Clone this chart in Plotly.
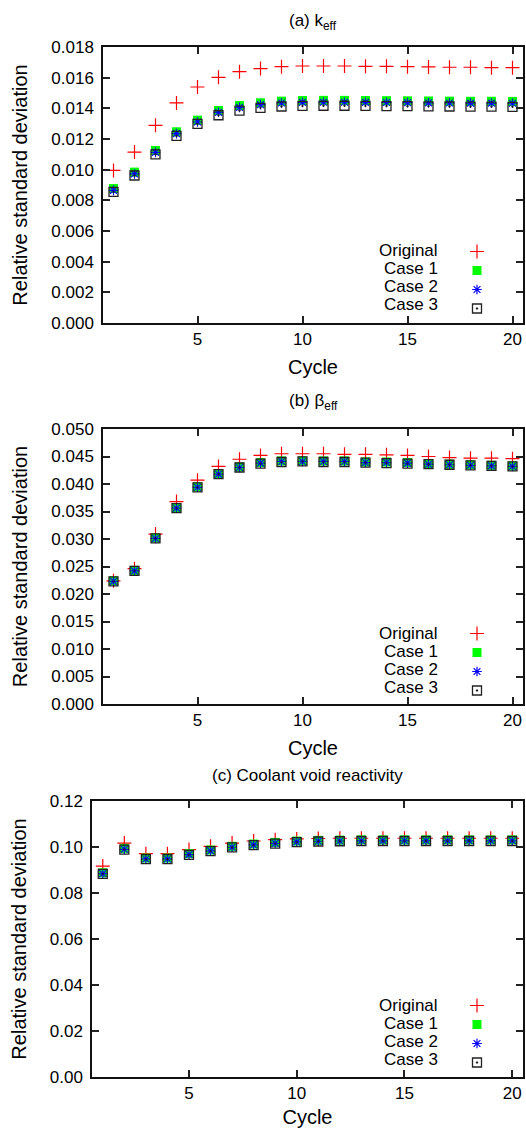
import plotly.graph_objects as go

cycles = list(range(1, 21))

# (a) k_eff
keff_original = [0.00995, 0.01115, 0.01289, 0.01435, 0.01539, 0.01602, 0.01639, 0.01659, 0.01672, 0.01676,
                 0.01676, 0.01676, 0.01674, 0.01674, 0.01672, 0.01670, 0.01668, 0.01668, 0.01665, 0.01665]
keff_case1 = [0.00877, 0.00984, 0.01125, 0.01247, 0.01323, 0.01386, 0.01418, 0.01436, 0.01447, 0.01451,
              0.01452, 0.01452, 0.01451, 0.01450, 0.01449, 0.01448, 0.01447, 0.01446, 0.01446, 0.01445]
keff_case2 = [0.00865, 0.00972, 0.01113, 0.01235, 0.01311, 0.01374, 0.01406, 0.01424, 0.01435, 0.01439,
              0.01440, 0.01440, 0.01439, 0.01438, 0.01437, 0.01436, 0.01435, 0.01434, 0.01434, 0.01433]
keff_case3 = [0.00855, 0.00962, 0.01100, 0.01220, 0.01298, 0.01355, 0.01385, 0.01403, 0.01412, 0.01416,
              0.01417, 0.01417, 0.01416, 0.01415, 0.01414, 0.01413, 0.01412, 0.01411, 0.01411, 0.01410]

# (b) beta_eff
beff_original = [0.0224, 0.0246, 0.0309, 0.0368, 0.0407, 0.0432, 0.0445, 0.0452, 0.0455, 0.0455,
                 0.0455, 0.0454, 0.0454, 0.0453, 0.0452, 0.0450, 0.0448, 0.0447, 0.0447, 0.0446]
beff_case1 = [0.0224, 0.0243, 0.0302, 0.0357, 0.0395, 0.0419, 0.0431, 0.0439, 0.0442, 0.0442,
              0.0442, 0.0442, 0.0440, 0.0440, 0.0439, 0.0437, 0.0436, 0.0435, 0.0434, 0.0433]
beff_case2 = [0.0223, 0.0242, 0.0301, 0.0356, 0.0394, 0.0418, 0.0430, 0.0438, 0.0441, 0.0441,
              0.0441, 0.0441, 0.0439, 0.0439, 0.0438, 0.0436, 0.0435, 0.0434, 0.0433, 0.0432]
beff_case3 = [0.0223, 0.0242, 0.0301, 0.0356, 0.0394, 0.0418, 0.0430, 0.0437, 0.0440, 0.0441,
              0.0440, 0.0440, 0.0439, 0.0438, 0.0437, 0.0436, 0.0435, 0.0434, 0.0433, 0.0432]

# (c) Coolant void reactivity
cvr_original = [0.0917, 0.1017, 0.0971, 0.0971, 0.0989, 0.1003, 0.1017, 0.1026, 0.1032, 0.1035,
                0.1037, 0.1038, 0.1038, 0.1038, 0.1038, 0.1038, 0.1038, 0.1038, 0.1038, 0.1038]
cvr_case1 = [0.0888, 0.0994, 0.0952, 0.0952, 0.0971, 0.0987, 0.1003, 0.1013, 0.1020, 0.1026,
             0.1029, 0.1030, 0.1031, 0.1031, 0.1031, 0.1031, 0.1031, 0.1031, 0.1031, 0.1031]
cvr_case2 = [0.0884, 0.0990, 0.0948, 0.0948, 0.0967, 0.0983, 0.0999, 0.1009, 0.1016, 0.1022,
             0.1025, 0.1026, 0.1027, 0.1027, 0.1027, 0.1027, 0.1027, 0.1027, 0.1027, 0.1027]
cvr_case3 = [0.0883, 0.0989, 0.0947, 0.0947, 0.0966, 0.0982, 0.0998, 0.1008, 0.1015, 0.1021,
             0.1024, 0.1025, 0.1026, 0.1026, 0.1026, 0.1026, 0.1026, 0.1026, 0.1026, 0.1026]

series_names = ["Original", "Case 1", "Case 2", "Case 3"]
panel_titles = ["(a) k<sub>eff</sub>", "(b) β<sub>eff</sub>", "(c) Coolant void reactivity"]
x_tickvals = [5, 10, 15, 20]

panels = [
    [keff_original, keff_case1, keff_case2, keff_case3],
    [beff_original, beff_case1, beff_case2, beff_case3],
    [cvr_original, cvr_case1, cvr_case2, cvr_case3],
]

W, H = 526, 1128
FONT = "Liberation Sans, Arial, Helvetica, sans-serif"
FS = 17

markers = [
    dict(symbol="cross-thin-open", size=10, line=dict(color="#ff0000", width=1.2), color="#ff0000"),
    dict(symbol="square", size=9, color="#00ff00", line=dict(width=0)),
    dict(symbol="asterisk-open", size=8, line=dict(color="#0000ff", width=1.2), color="#0000ff"),
    dict(symbol="square-open-dot", size=9, line=dict(color="#222222", width=1.3), color="#222222"),
]

# pixel geometry of each panel: (left, right, top, bottom)
geom = [(103, 523, 47, 323), (103, 523, 429, 704), (92, 523, 801, 1077)]
y_ranges = [[0, 0.018], [0, 0.05], [0, 0.12]]
y_dticks = [0.002, 0.005, 0.02]
y_formats = [".3f", ".3f", ".2f"]
legend_rows = [[251, 269, 287, 305], [633, 651, 669, 687], [1005, 1023, 1041, 1059]]
title_y = [22, 402, 775]


def px(v):
    return v / W


def py(v):
    return 1 - v / H


fig = go.Figure()
layout = dict(
    width=W, height=H,
    margin=dict(l=0, r=0, t=0, b=0, autoexpand=False),
    paper_bgcolor="white", plot_bgcolor="white",
    font=dict(family=FONT, size=FS, color="black"),
    annotations=[],
)

for p in range(3):
    sfx = "" if p == 0 else str(p + 1)
    L, R, T, B = geom[p]
    for s in range(4):
        fig.add_trace(go.Scatter(
            x=cycles, y=panels[p][s], mode="markers", name="",
            legendgroup=series_names[s],
            marker=markers[s], xaxis="x" + sfx, yaxis="y" + sfx,
            legend="legend" + sfx, showlegend=True, cliponaxis=False,
            hovertext=series_names[s],
        ))
    layout["xaxis" + sfx] = dict(
        domain=[px(L), px(R)], anchor="y" + sfx, range=[0.5, 20.5], automargin=False,
        tickvals=x_tickvals, ticks="inside", ticklen=7, tickwidth=1.5, tickcolor="#222",
        showline=True, linecolor="#111", linewidth=1.5, mirror="ticks",
        showgrid=False, zeroline=False, ticklabelstandoff=0,
        title=dict(text="Cycle", standoff=12), tickfont=dict(size=FS),
    )
    layout["yaxis" + sfx] = dict(
        domain=[py(B), py(T)], anchor="x" + sfx, range=y_ranges[p], automargin=False,
        dtick=y_dticks[p], tick0=0, tickformat=y_formats[p],
        ticks="inside", ticklen=7, tickwidth=1.5, tickcolor="#222",
        showline=True, linecolor="#111", linewidth=1.5, mirror="ticks",
        showgrid=False, zeroline=False, ticklabelstandoff=4,
        title=dict(text="Relative standard deviation", standoff=18), tickfont=dict(size=FS),
    )
    rows = legend_rows[p]
    layout["legend" + sfx] = dict(
        x=px(476 - 19), xanchor="left", y=py(rows[0] - 14), yanchor="top",
        bgcolor="rgba(0,0,0,0)", borderwidth=0, font=dict(size=12),
        tracegroupgap=0, itemwidth=30, traceorder="normal",
    )
    for s in range(4):
        layout["annotations"].append(dict(
            text=series_names[s], xref="paper", yref="paper",
            x=px(440), y=py(rows[s]), xanchor="right", yanchor="middle",
            showarrow=False, font=dict(size=FS),
        ))
    layout["annotations"].append(dict(
        text=panel_titles[p], xref="paper", yref="paper",
        x=px((L + R) / 2), y=py(title_y[p]), xanchor="center", yanchor="middle",
        showarrow=False, font=dict(size=FS),
    ))

fig.update_layout(**layout)
fig.write_html(
    "out.html",
    config={"displayModeBar": False},
    post_script="document.body.style.margin='0';document.body.style.overflow='hidden';",
)
